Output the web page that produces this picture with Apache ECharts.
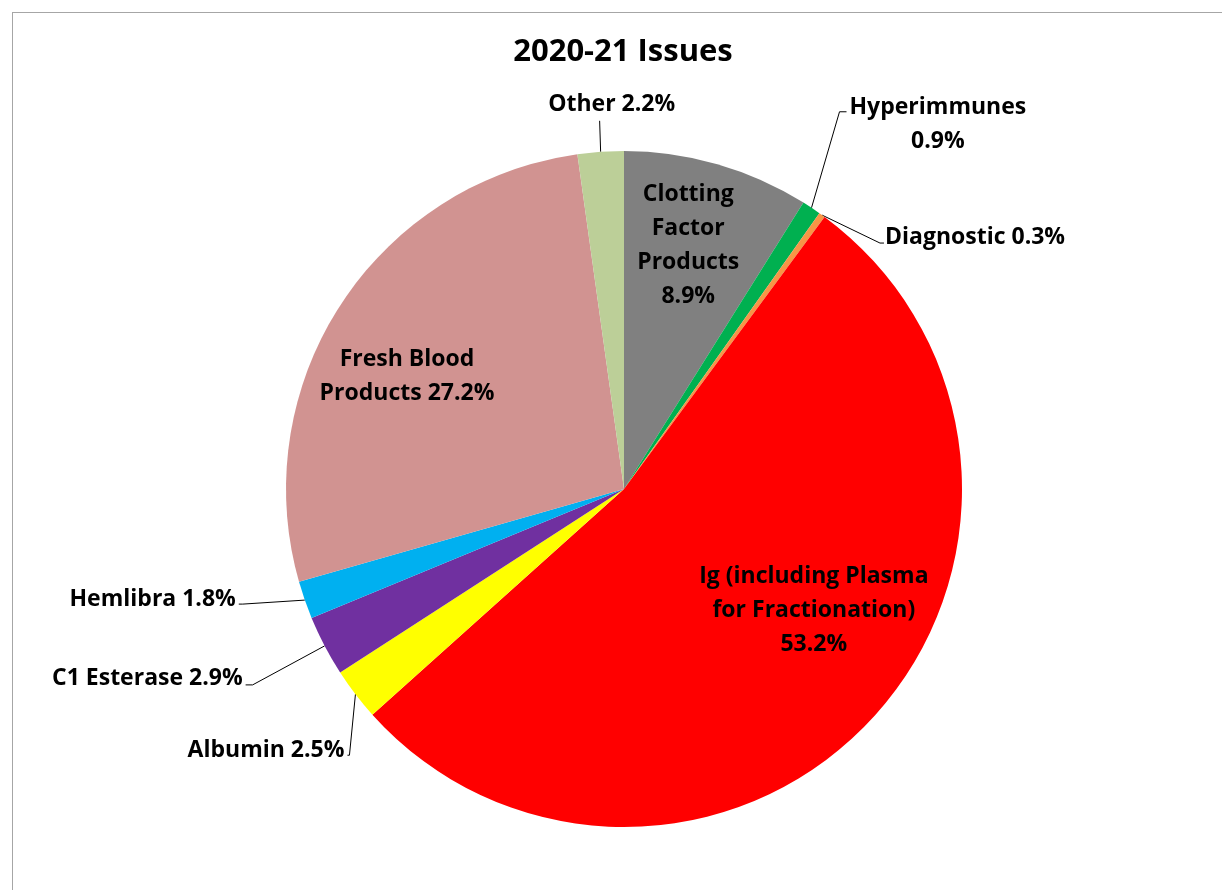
<!DOCTYPE html>
<html>
<head>
<meta charset="utf-8">
<script src="https://cdn.jsdelivr.net/npm/echarts@6/dist/echarts.min.js"></script>
<style>
  body { margin: 0; background: #fff; }
  #chart {
    position: absolute;
    left: 12px;
    top: 12px;
    width: 1210px;
    height: 878px;
    border-left: 1px solid #a6a6a6;
    border-top: 1px solid #a6a6a6;
  }
</style>
</head>
<body>
<div id="chart"></div>
<script>
// slices, clockwise from 12 o'clock
const categories = ['Clotting Factor Products', 'Hyperimmunes', 'Diagnostic', 'Ig (including Plasma for Fractionation)', 'Albumin', 'C1 Esterase', 'Hemlibra', 'Fresh Blood Products', 'Other']
const shares = [8.9, 0.9, 0.3, 53.2, 2.5, 2.9, 1.8, 27.2, 2.2]
const labelTexts = [
  'Clotting\nFactor\nProducts\n8.9%',
  'Hyperimmunes\n0.9%',
  'Diagnostic 0.3%',
  'Ig (including Plasma\nfor Fractionation)\n53.2%',
  'Albumin 2.5%',
  'C1 Esterase 2.9%',
  'Hemlibra 1.8%',
  'Fresh Blood\nProducts 27.2%',
  'Other 2.2%',
]

const colors = ['#808080', '#00b050', '#f79646', '#ff0000', '#ffff00', '#7030a0', '#00b0f0', '#d19391', '#bccf98']
const insideLabels = ['Clotting Factor Products', 'Ig (including Plasma for Fractionation)', 'Fresh Blood Products']

// Excel-style leader lines: first and second segment from the slice edge, then label nudge
const leaderShape = {
  Hyperimmunes: { v1: [28, -96], v2: [7, 0], shift: [0, 13], align: 'center' },
  Diagnostic: { v1: [58, 28], v2: [4, 0], shift: [-2, -6] },
  Albumin: { v1: [-6, 61], v2: [-2, 0], shift: [0, -5] },
  'C1 Esterase': { v1: [-72, 39], v2: [-7, 0], shift: [0, -6] },
  Hemlibra: { v1: [-62, 4], v2: [-4, 0], shift: [0, -5] },
  Other: { v1: [-1, -31], v2: [0, 0], shift: [15, 1], align: 'center', verticalAlign: 'bottom' },
}
// nudges for the labels drawn inside the big slices
const insideShift = {
  'Clotting Factor Products': [-4, -6],
  'Fresh Blood Products': [-10, 22],
  'Ig (including Plasma for Fractionation)': [7, -45],
}

const FONT = '"Open Sans", Lato, sans-serif'
const CENTER = [611, 476]
const R = 338

const chart = echarts.init(document.getElementById('chart'))

const outerData = categories.map((name, i) => ({
  name,
  value: shares[i],
  itemStyle: { color: colors[i] },
  label: { show: !insideLabels.includes(name), formatter: labelTexts[i] },
}))

const innerData = categories.map((name, i) => ({
  name,
  value: shares[i],
  label: { show: insideLabels.includes(name), formatter: labelTexts[i] },
}))

const labelFont = {
  fontFamily: FONT,
  fontSize: 23,
  fontWeight: 'bold',
  color: '#000',
  lineHeight: 34,
}

const option = {
  animation: false,
  title: {
    text: '2020-21 Issues',
    left: 605,
    top: 19,
    textAlign: 'center',
    textStyle: { fontFamily: FONT, fontSize: 31, fontWeight: 'bold', color: '#000' },
  },
  series: [
    {
      type: 'pie',
      center: CENTER,
      radius: [0, R],
      startAngle: 90,
      clockwise: true,
      avoidLabelOverlap: false,
      data: outerData,
      label: { position: 'outside', distanceToLabelLine: 3, ...labelFont },
      labelLine: {
        show: true,
        length: 20,
        length2: 10,
        lineStyle: { color: '#000', width: 1 },
      },
      labelLayout: (params) => {
        const s = leaderShape[categories[params.dataIndex]]
        const pts = params.labelLinePoints
        if (!s || !pts) return {}
        const p0 = pts[0]
        const p1 = [p0[0] + s.v1[0], p0[1] + s.v1[1]]
        const p2 = [p1[0] + s.v2[0], p1[1] + s.v2[1]]
        const out = {
          dx: p2[0] - pts[2][0] + s.shift[0],
          dy: p2[1] - pts[2][1] + s.shift[1],
          labelLinePoints: [p0, p1, p2],
        }
        if (s.align) {
          out.align = s.align
          if (categories[params.dataIndex] === 'Hyperimmunes') out.dx += params.labelRect.width / 2
        }
        if (s.verticalAlign) out.verticalAlign = s.verticalAlign
        return out
      },
      emphasis: { disabled: true },
    },
    {
      type: 'pie',
      center: CENTER,
      radius: [150, R],
      startAngle: 90,
      clockwise: true,
      silent: true,
      data: innerData,
      itemStyle: { color: 'rgba(0,0,0,0)' },
      label: { position: 'inside', ...labelFont },
      labelLine: { show: false },
      labelLayout: (params) => {
        const s = insideShift[categories[params.dataIndex]]
        return s ? { dx: s[0], dy: s[1] } : {}
      },
      emphasis: { disabled: true },
    },
  ],
}

chart.setOption(option)
</script>
</body>
</html>
